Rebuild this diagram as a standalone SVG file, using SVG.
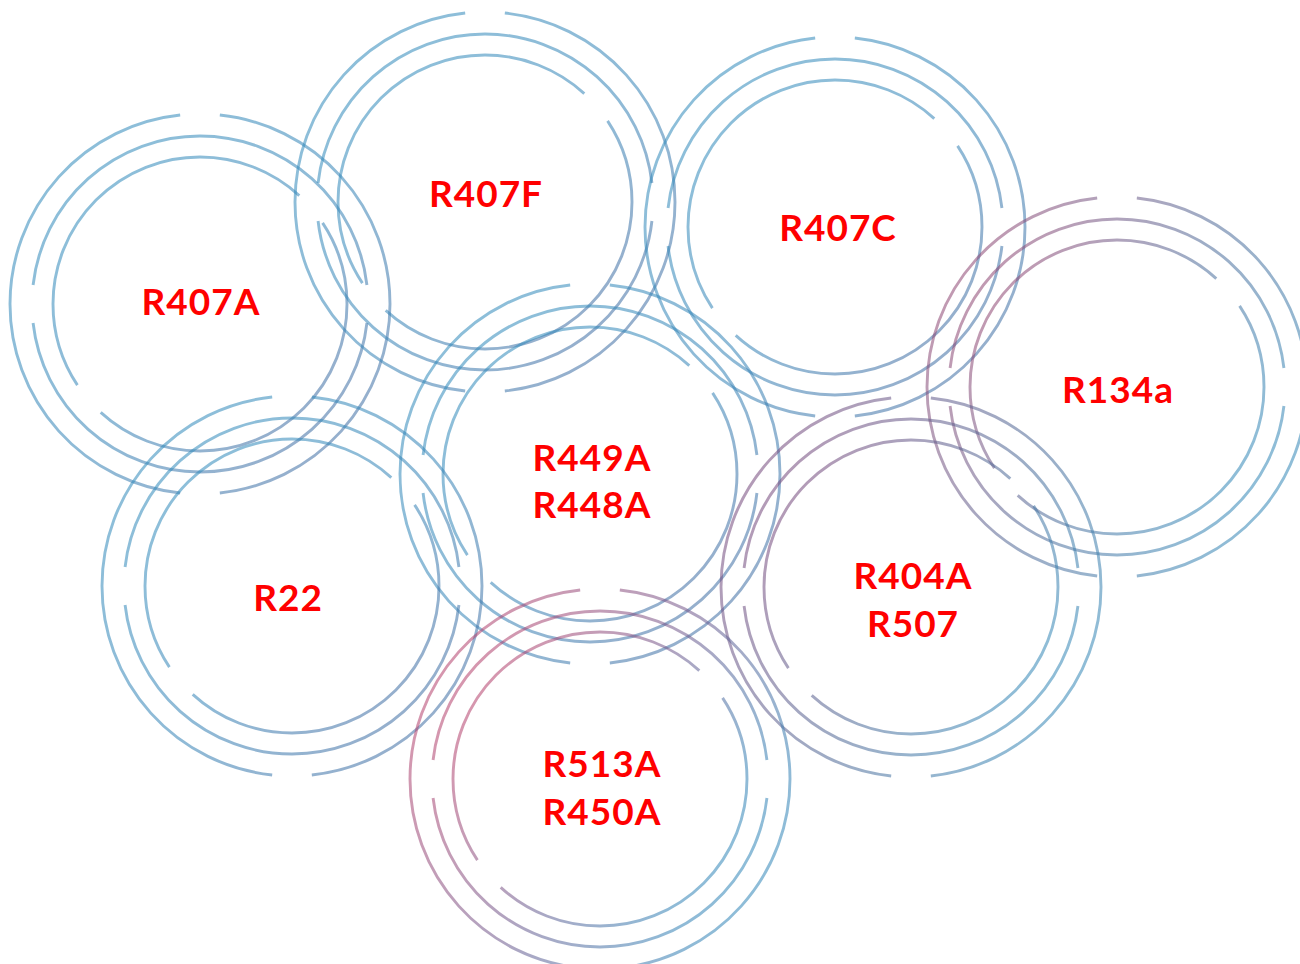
<svg xmlns="http://www.w3.org/2000/svg" width="1300" height="964" viewBox="0 0 1300 964">
  <defs>
    <linearGradient id="gBlue" x1="0" y1="0" x2="1" y2="1">
      <stop offset="0" stop-color="#2e8cbc"/>
      <stop offset="0.55" stop-color="#3382b6"/>
      <stop offset="1" stop-color="#44649b"/>
    </linearGradient>
    <linearGradient id="gPink" x1="0" y1="0.2" x2="1" y2="0.8">
      <stop offset="0" stop-color="#c03c66"/>
      <stop offset="0.5" stop-color="#6e5a8e"/>
      <stop offset="0.85" stop-color="#3580b4"/>
      <stop offset="1" stop-color="#2e8cbc"/>
    </linearGradient>
    <linearGradient id="gPurple" x1="0" y1="0.2" x2="1" y2="0.8">
      <stop offset="0" stop-color="#7a4478"/>
      <stop offset="0.55" stop-color="#4e6896"/>
      <stop offset="1" stop-color="#2e8cbc"/>
    </linearGradient>
    <linearGradient id="gMauve" x1="0" y1="0.2" x2="1" y2="0.8">
      <stop offset="0" stop-color="#98406c"/>
      <stop offset="0.5" stop-color="#4f6a98"/>
      <stop offset="1" stop-color="#2e8cbc"/>
    </linearGradient>
  </defs>
  <style>
    circle { fill: none; stroke-width: 2.9; stroke-opacity: 0.55; }
    .blue circle { stroke: url(#gBlue); }
    .pink circle { stroke: url(#gPink); }
    .purple circle { stroke: url(#gPurple); }
    .mauve circle { stroke: url(#gMauve); }
    .o { stroke-dasharray: 168 12; stroke-dashoffset: 84; }
    .m { stroke-dasharray: 167 13; stroke-dashoffset: -6.5; }
    .i { stroke-dasharray: 166 14; stroke-dashoffset: 33.5; }
    text { font-family: "Lato", "Liberation Sans", sans-serif; font-weight: 700; font-size: 37px; fill: #ff0000; text-anchor: middle; letter-spacing: 1px; }
  </style>
  <g id="connectors"></g>

  <g id="n-r407a" class="blue">
    <circle class="o" cx="200" cy="304" r="190" pathLength="360"/>
    <circle class="m" cx="200" cy="304" r="168" pathLength="360"/>
    <circle class="i" cx="200" cy="304" r="147" pathLength="360"/>
    <text x="201" y="315">R407A</text>
  </g>

  <g id="n-r407f" class="blue">
    <circle class="o" cx="485" cy="202" r="190" pathLength="360"/>
    <circle class="m" cx="485" cy="202" r="168" pathLength="360"/>
    <circle class="i" cx="485" cy="202" r="147" pathLength="360"/>
    <text x="486" y="207">R407F</text>
  </g>

  <g id="n-r407c" class="blue">
    <circle class="o" cx="835" cy="227" r="190" pathLength="360"/>
    <circle class="m" cx="835" cy="227" r="168" pathLength="360"/>
    <circle class="i" cx="835" cy="227" r="147" pathLength="360"/>
    <text x="838" y="241">R407C</text>
  </g>

  <g id="n-r134a" class="mauve">
    <circle class="o" cx="1117" cy="387" r="190" pathLength="360"/>
    <circle class="m" cx="1117" cy="387" r="168" pathLength="360"/>
    <circle class="i" cx="1117" cy="387" r="147" pathLength="360"/>
    <text x="1118" y="403">R134a</text>
  </g>

  <g id="n-r449a-r448a" class="blue">
    <circle class="o" cx="590" cy="474" r="190" pathLength="360"/>
    <circle class="m" cx="590" cy="474" r="168" pathLength="360"/>
    <circle class="i" cx="590" cy="474" r="147" pathLength="360"/>
    <text x="592" y="471">R449A</text>
    <text x="592" y="518">R448A</text>
  </g>

  <g id="n-r22" class="blue">
    <circle class="o" cx="292" cy="586" r="190" pathLength="360"/>
    <circle class="m" cx="292" cy="586" r="168" pathLength="360"/>
    <circle class="i" cx="292" cy="586" r="147" pathLength="360"/>
    <text x="288" y="611">R22</text>
  </g>

  <g id="n-r404a-r507" class="purple">
    <circle class="o" cx="911" cy="587" r="190" pathLength="360"/>
    <circle class="m" cx="911" cy="587" r="168" pathLength="360"/>
    <circle class="i" cx="911" cy="587" r="147" pathLength="360"/>
    <text x="913" y="589">R404A</text>
    <text x="913" y="637">R507</text>
  </g>

  <g id="n-r513a-r450a" class="pink">
    <circle class="o" cx="600" cy="779" r="190" pathLength="360"/>
    <circle class="m" cx="600" cy="779" r="168" pathLength="360"/>
    <circle class="i" cx="600" cy="779" r="147" pathLength="360"/>
    <text x="602" y="777">R513A</text>
    <text x="602" y="825">R450A</text>
  </g>
</svg>
